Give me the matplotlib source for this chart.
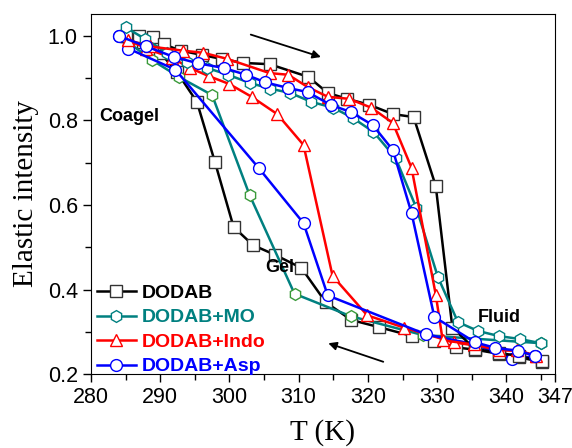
import numpy as np
import matplotlib.pyplot as plt
from matplotlib.ticker import MultipleLocator

# DODAB
t_dodab_heat = [285, 287, 289, 290.5, 293, 296, 299, 302, 305.8, 311.4, 314.2, 317, 320.2, 323.6, 326.6, 329.8, 332.2, 335.4, 338.9, 341.8, 345.2]
i_dodab_heat = [1.0, 1.0, 0.998, 0.98, 0.965, 0.955, 0.945, 0.936, 0.933, 0.903, 0.865, 0.851, 0.837, 0.815, 0.808, 0.645, 0.31, 0.26, 0.25, 0.243, 0.23]
t_dodab_cool = [345.2, 341.8, 338.9, 335.4, 332.7, 329.5, 326.4, 321.6, 317.6, 313.9, 310.4, 306.6, 303.4, 300.6, 297.9, 295.3, 292.4, 290, 287.5, 285]
i_dodab_cool = [0.228, 0.24, 0.248, 0.258, 0.263, 0.278, 0.29, 0.311, 0.328, 0.37, 0.451, 0.482, 0.505, 0.548, 0.702, 0.844, 0.915, 0.96, 0.985, 1.0]

# DODAB+MO
t_mo_heat = [285, 287.8, 291, 293.9, 296.8, 299.8, 302.9, 305.9, 308.8, 311.8, 315, 317.8, 320.8, 324, 327, 330.1, 333, 335.9, 338.9, 341.9, 345]
i_mo_heat = [1.02, 0.993, 0.96, 0.938, 0.924, 0.908, 0.889, 0.875, 0.865, 0.844, 0.83, 0.806, 0.773, 0.711, 0.593, 0.43, 0.323, 0.302, 0.29, 0.283, 0.273]
t_mo_cool = [345, 328, 317.5, 309.4, 302.9, 297.5, 292.7, 288.8, 285.5]
i_mo_cool = [0.273, 0.292, 0.337, 0.39, 0.624, 0.86, 0.903, 0.943, 0.983]

# DODAB+Indo
t_indo_heat = [285.4, 288.5, 293.3, 296.2, 299.6, 305.8, 308.5, 311.3, 314.2, 317.3, 320.5, 323.6, 326.3, 329.8, 330.8, 335.3, 338.9, 341.6, 344.3]
i_indo_heat = [0.99, 0.975, 0.965, 0.96, 0.946, 0.912, 0.908, 0.879, 0.856, 0.851, 0.83, 0.794, 0.688, 0.388, 0.28, 0.27, 0.256, 0.257, 0.243]
t_indo_cool = [344.3, 341.6, 338.9, 335.3, 332.4, 325.2, 319.9, 314.9, 310.7, 306.9, 303.2, 300, 297, 294.3, 291.7, 288, 285.4]
i_indo_cool = [0.243, 0.255, 0.257, 0.268, 0.275, 0.31, 0.339, 0.432, 0.742, 0.815, 0.856, 0.886, 0.905, 0.924, 0.948, 0.97, 0.99]

# DODAB+Asp
t_asp_heat = [284, 288, 292, 295.5, 299.2, 302.4, 305.2, 308.4, 311.3, 314.6, 317.5, 320.7, 323.6, 326.3, 329.6, 335.5, 338.4, 341.7, 344.2]
i_asp_heat = [1.0, 0.975, 0.95, 0.935, 0.924, 0.908, 0.89, 0.877, 0.867, 0.837, 0.82, 0.789, 0.73, 0.581, 0.335, 0.275, 0.262, 0.255, 0.243]
t_asp_cool = [344.2, 340.8, 335.5, 328.4, 314.2, 310.7, 304.2, 292.2, 285.4, 284]
i_asp_cool = [0.243, 0.235, 0.27, 0.294, 0.386, 0.557, 0.688, 0.92, 0.97, 1.0]

labels = ['DODAB', 'DODAB+MO', 'DODAB+Indo', 'DODAB+Asp']
colors = ['black', '#008080', 'red', 'blue']
markers = ['s', 'h', '^', 'o']
heat = [(t_dodab_heat, i_dodab_heat), (t_mo_heat, i_mo_heat), (t_indo_heat, i_indo_heat), (t_asp_heat, i_asp_heat)]
cool = [(t_dodab_cool, i_dodab_cool), (t_mo_cool, i_mo_cool), (t_indo_cool, i_indo_cool), (t_asp_cool, i_asp_cool)]
cool_edge = ['#333333', '#3a9a3a', 'red', 'blue']

fig = plt.figure(figsize=(5.72, 4.48), dpi=100)
ax = fig.add_axes([0.159, 0.165, 0.811, 0.804])

for k in range(4):
    ax.plot(*cool[k], color=colors[k], lw=1.8, marker=markers[k], ms=8.5,
            mfc='white', mec=cool_edge[k], mew=1.0, zorder=2)
    ax.plot(*heat[k], color=colors[k], lw=1.8, marker=markers[k], ms=8.5,
            mfc='white', mec=colors[k] if k != 0 else '#333333', mew=1.0,
            label=labels[k], zorder=3)

ax.annotate('', xy=(313.6, 0.948), xytext=(302.7, 1.005),
            arrowprops=dict(arrowstyle='-|>', color='black', lw=1.3, mutation_scale=12))
ax.annotate('', xy=(313.9, 0.275), xytext=(322.6, 0.227),
            arrowprops=dict(arrowstyle='-|>', color='black', lw=1.3, mutation_scale=12))

txt = dict(fontsize=13, fontweight='bold', family='Liberation Sans', ha='center', va='center')
ax.text(285.6, 0.81, 'Coagel', **txt)
ax.text(307.2, 0.452, 'Gel', **txt)
ax.text(338.9, 0.335, 'Fluid', **txt)

ax.set_xlim(280, 347)
ax.set_ylim(0.2, 1.052)
ax.set_xticks([280, 290, 300, 310, 320, 330, 340, 347])
ax.xaxis.set_minor_locator(MultipleLocator(5))
ax.set_yticks([0.2, 0.4, 0.6, 0.8, 1.0])
ax.yaxis.set_minor_locator(MultipleLocator(0.1))
ax.tick_params(which='major', direction='out', length=6, width=1, labelsize=15.5)
ax.tick_params(which='minor', direction='out', length=4, width=1)
for lab in ax.get_xticklabels() + ax.get_yticklabels():
    lab.set_family('Liberation Sans')

ax.set_xlabel('T (K)', family='Liberation Serif', fontsize=21, labelpad=8)
ax.set_ylabel('Elastic intensity', family='Liberation Serif', fontsize=21, labelpad=6)

leg = ax.legend(loc='lower left', bbox_to_anchor=(-0.004, -0.025), frameon=False,
                handlelength=2.0, handletextpad=0.3, labelspacing=0.35, borderaxespad=0,
                prop=dict(family='Liberation Sans', weight='bold', size=14))
for t, c in zip(leg.get_texts(), colors):
    t.set_color(c)

fig.savefig('out.png', dpi=100)
